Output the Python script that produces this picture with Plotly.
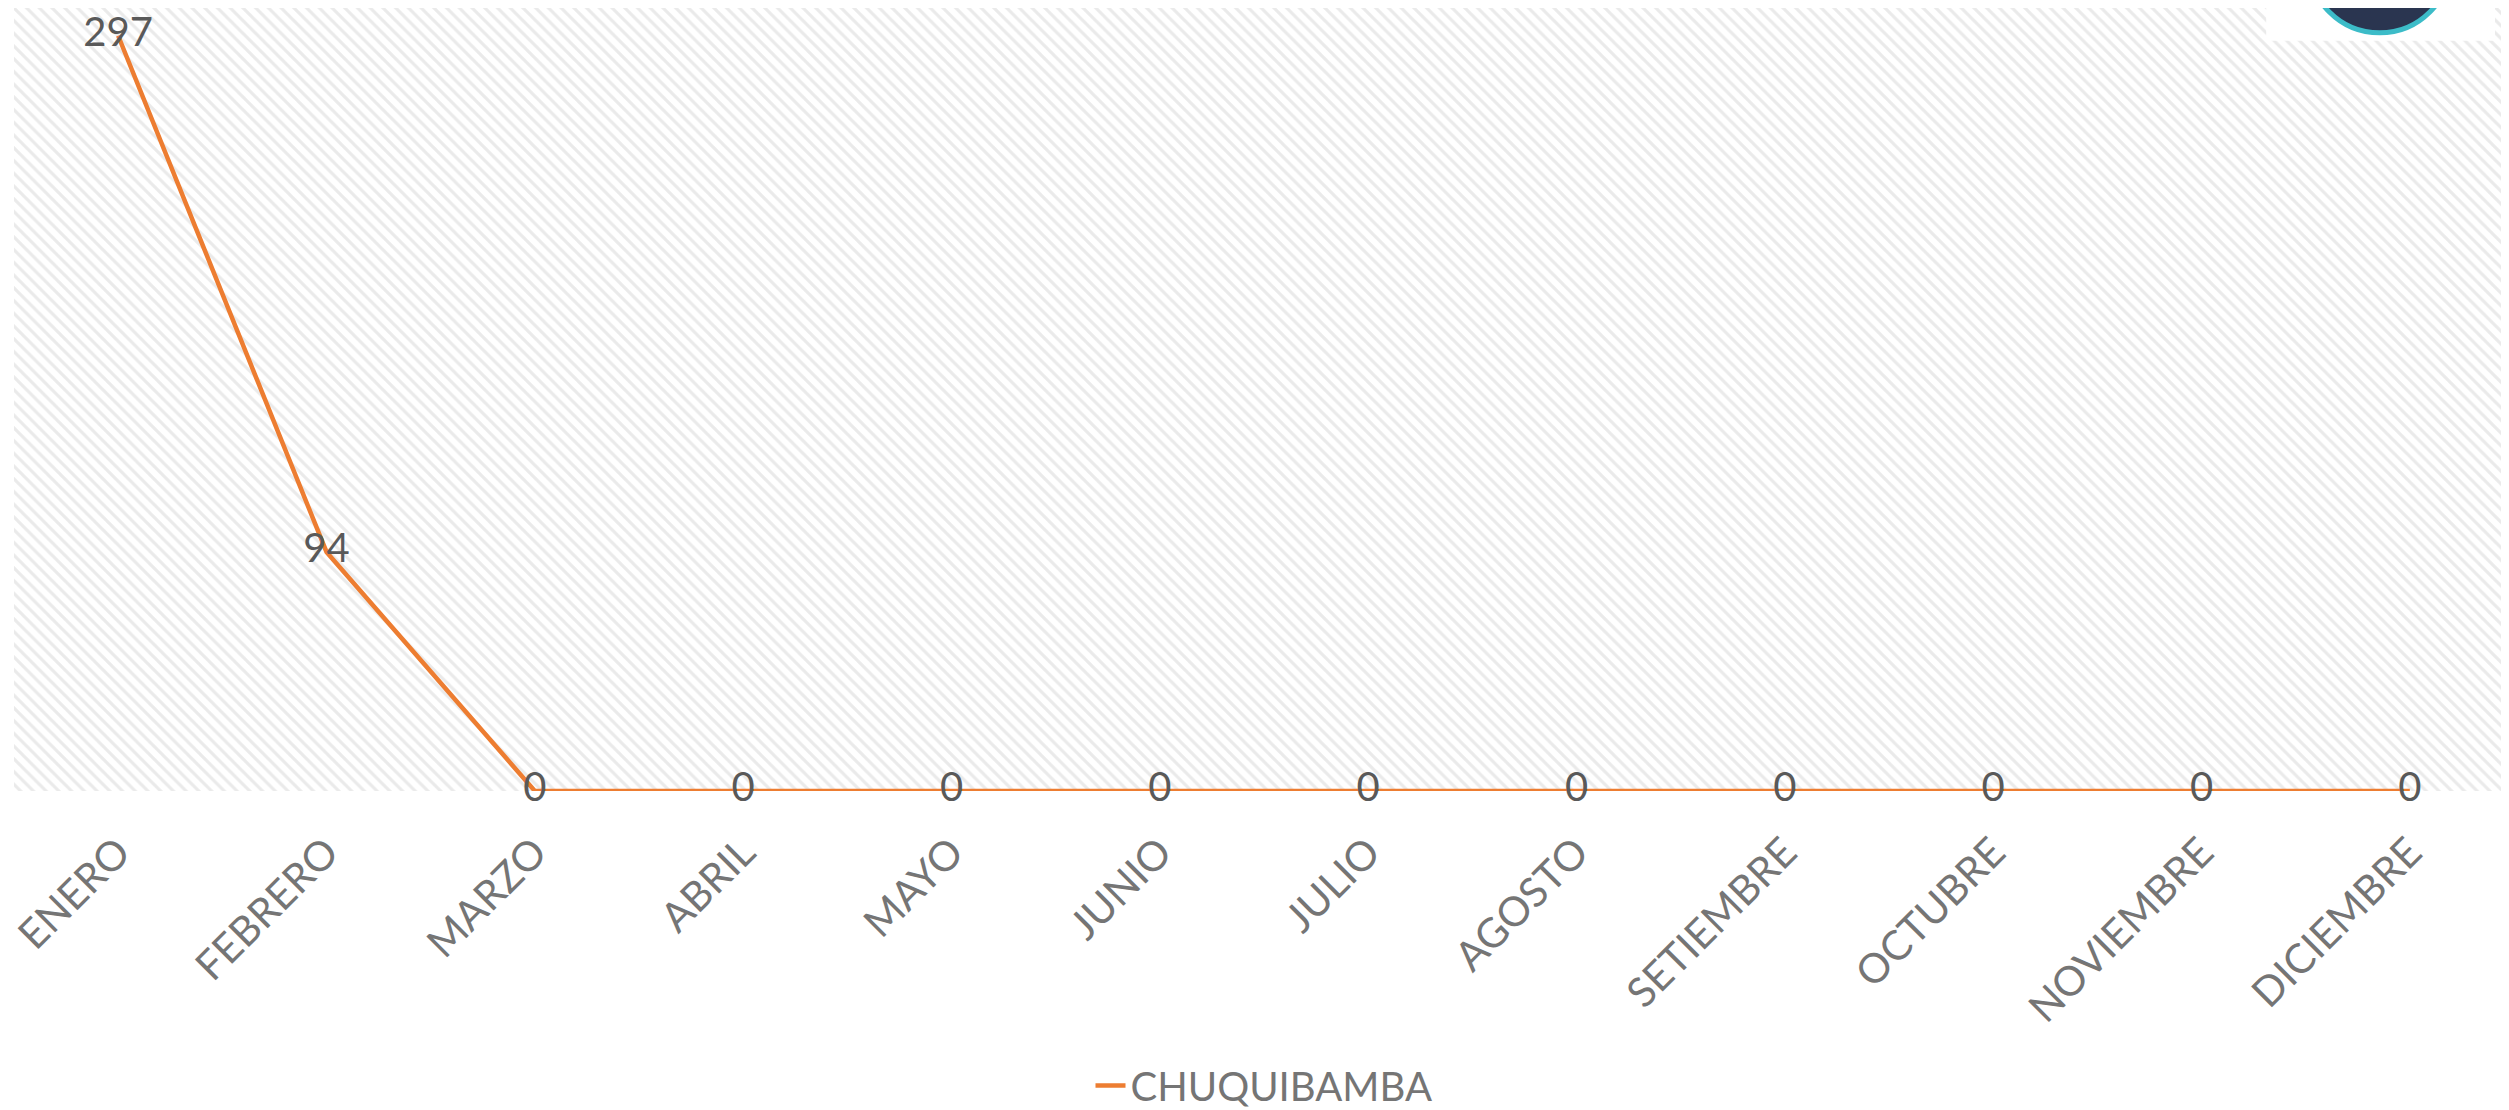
import plotly.graph_objects as go

months = ["ENERO", "FEBRERO", "MARZO", "ABRIL", "MAYO", "JUNIO", "JULIO",
          "AGOSTO", "SETIEMBRE", "OCTUBRE", "NOVIEMBRE", "DICIEMBRE"]
values = [297, 94, 0, 0, 0, 0, 0, 0, 0, 0, 0, 0]
series_name = "CHUQUIBAMBA"

W, H = 2509, 1110
L, R, T, B = 4, 3, 0, 322
y_max = 307.9
idx = list(range(len(months)))

fig = go.Figure()

# hatched plot-area background
fig.add_trace(go.Scatter(
    x=[-0.5, 11.5, 11.5, -0.5, -0.5], y=[0, 0, y_max, y_max, 0],
    mode="lines", line=dict(width=0), fill="toself",
    fillcolor="rgba(255,255,255,0)",
    fillpattern=dict(shape="\\", size=9, solidity=0.35,
                     fgcolor="#d6d6d6", bgcolor="#ffffff"),
    hoverinfo="skip", showlegend=False))

fig.add_trace(go.Scatter(
    x=idx, y=values, mode="lines+text", name=series_name,
    line=dict(color="#ED7D31", width=4.5),
    text=[str(v) for v in values], textposition="middle center",
    cliponaxis=False,
    textfont=dict(family="Lato", size=40, color="#595959")))

# logo placeholder (partially cut at top right)
fig.add_shape(type="rect", xref="paper", yref="paper",
              x0=(2258 - L) / (W - L - R), x1=(2487 - L) / (W - L - R),
              y0=1 - 33 / (H - T - B), y1=1.02,
              fillcolor="white", line=dict(width=0), layer="above")
fig.add_shape(type="circle", xref="paper", yref="paper",
              x0=(2300 - L) / (W - L - R), x1=(2443 - L) / (W - L - R),
              y0=1 - 25 / (H - T - B), y1=1 + 120 / (H - T - B),
              fillcolor="#2a3550", line=dict(color="#3cbcc8", width=5),
              layer="above")

fig.update_layout(
    width=W, height=H,
    margin=dict(l=L, r=R, t=T, b=B),
    paper_bgcolor="white", plot_bgcolor="white",
    font=dict(family="Lato", color="#757575"),
    showlegend=True,
    legend=dict(orientation="h", x=0.5, xanchor="center",
                y=-(1085 - (H - B)) / (H - B - T), yanchor="middle",
                font=dict(family="Lato", size=40, color="#757575"),
                bgcolor="rgba(0,0,0,0)"),
    xaxis=dict(range=[-0.5, 11.5], tickmode="array", tickvals=idx,
               ticktext=months, tickangle=-45, showgrid=False,
               zeroline=False, showline=False, ticks="",
               ticklabelstandoff=28, ticklabeloverflow="allow",
               tickfont=dict(family="Lato", size=41, color="#757575")),
    yaxis=dict(range=[0, y_max], visible=False, showgrid=False,
               zeroline=False),
)

fig.write_html("out.html")
